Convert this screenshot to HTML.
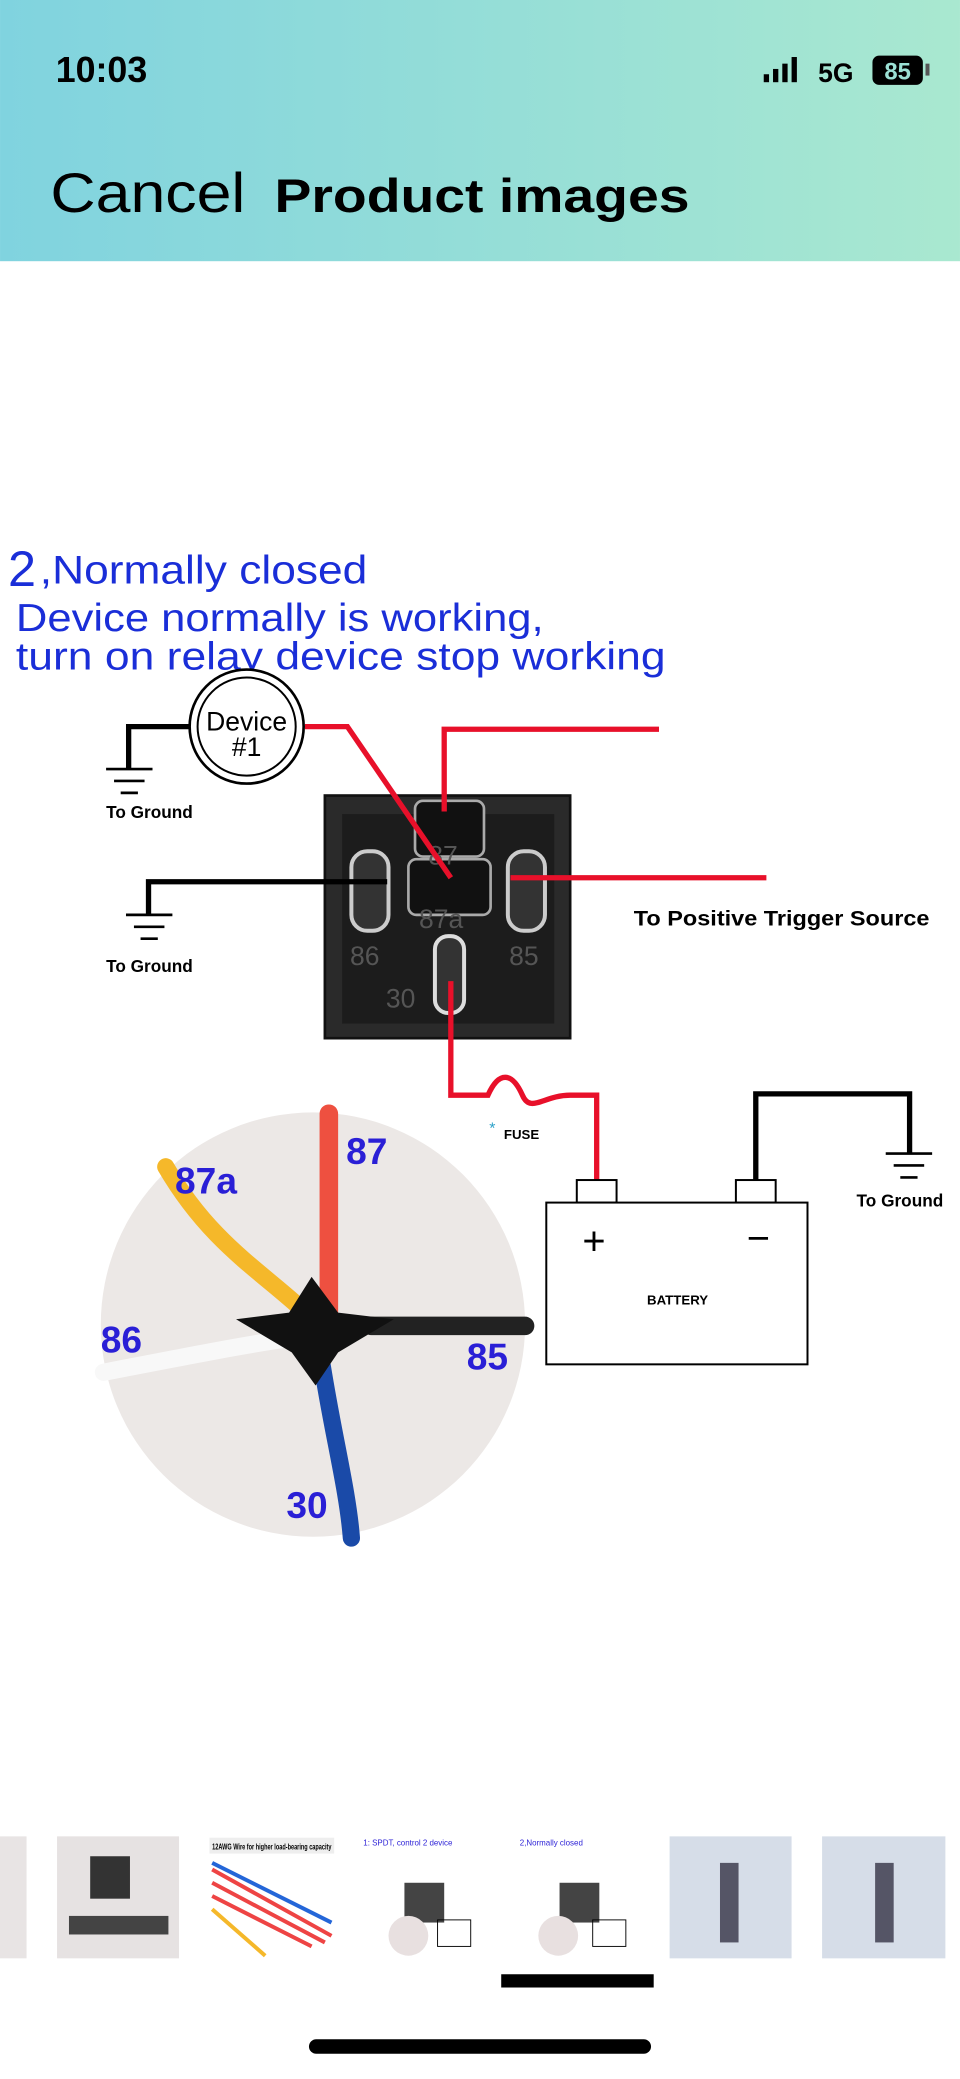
<!DOCTYPE html>
<html><head><meta charset="utf-8"><style>html,body{margin:0;padding:0;background:#fff}svg{display:block}</style></head>
<body>
<svg width="960" height="2079" viewBox="0 0 724 1568" xmlns="http://www.w3.org/2000/svg" font-family="Liberation Sans, sans-serif">
<defs>
<linearGradient id="hg" x1="0" x2="1"><stop offset="0" stop-color="#80d3df"/><stop offset="1" stop-color="#a9e8d0"/></linearGradient>
</defs>
<rect width="724" height="1568" fill="#fff"/>
<rect width="724" height="197" fill="url(#hg)"/>
<text x="42" y="62" font-size="27" font-weight="bold" fill="#000">10:03</text>
<g fill="#000"><rect x="576" y="56" width="4" height="6"/><rect x="583" y="52" width="4" height="10"/><rect x="590" y="48" width="4" height="14"/><rect x="597" y="43" width="4" height="19"/></g>
<text x="617" y="62" font-size="20" font-weight="bold">5G</text>
<rect x="658" y="42" width="38" height="22" rx="5" fill="#000"/><text x="677" y="60" font-size="18" font-weight="bold" fill="#9be0d4" text-anchor="middle">85</text>
<rect x="698" y="48" width="3" height="9" fill="#555"/>
<text x="38" y="160" font-size="42" fill="#000" textLength="147" lengthAdjust="spacingAndGlyphs">Cancel</text>
<text x="207" y="160" font-size="36" font-weight="bold" fill="#000" textLength="313" lengthAdjust="spacingAndGlyphs">Product images</text>

<text x="6" y="442" font-size="38" fill="#1a2ed8">2</text>
<text x="30" y="440" font-size="30" fill="#1a2ed8" textLength="247" lengthAdjust="spacingAndGlyphs">,Normally closed</text>
<text x="12" y="476" font-size="29" fill="#1a2ed8" textLength="398" lengthAdjust="spacingAndGlyphs">Device normally is working,</text>
<text x="12" y="505" font-size="29" fill="#1a2ed8" textLength="490" lengthAdjust="spacingAndGlyphs">turn on relay device stop working</text>

<rect x="245" y="600" width="185" height="183" fill="#2a2a2a" stroke="#111" stroke-width="2"/>
<rect x="258" y="614" width="160" height="158" fill="#1c1c1c"/>
<rect x="313" y="604" width="52" height="42" rx="6" fill="#111" stroke="#aaa" stroke-width="2"/>
<rect x="308" y="648" width="62" height="42" rx="6" fill="#111" stroke="#aaa" stroke-width="2"/>
<rect x="265" y="642" width="28" height="60" rx="12" fill="#333" stroke="#ccc" stroke-width="3"/>
<rect x="383" y="642" width="28" height="60" rx="12" fill="#333" stroke="#ccc" stroke-width="3"/>
<rect x="328" y="706" width="22" height="58" rx="10" fill="#333" stroke="#ddd" stroke-width="3"/>
<g fill="#555" font-size="20"><text x="323" y="652">87</text><text x="316" y="700">87a</text><text x="264" y="728">86</text><text x="384" y="728">85</text><text x="291" y="760">30</text></g>

<g fill="none" stroke-width="4">
<path d="M145 548H97V580" stroke="#000"/>
<path d="M230 548H262L340 662" stroke="#e8102a"/>
<path d="M335 612V550H497" stroke="#e8102a"/>
<path d="M292 665H112V690" stroke="#000"/>
<path d="M385 662H578" stroke="#e8102a"/>
<path d="M340 740V826H368C376 808 386 808 394 826C400 840 410 826 430 826H450V890" stroke="#e8102a"/>
<path d="M570 890V825H686V870" stroke="#000"/>
</g>
<circle cx="186" cy="548" r="43" fill="#fff" stroke="#000" stroke-width="2"/>
<circle cx="186" cy="548" r="37" fill="#fff" stroke="#000" stroke-width="1.5"/>
<text x="186" y="551" font-size="20" text-anchor="middle">Device</text>
<text x="186" y="570" font-size="20" text-anchor="middle">#1</text>
<g stroke="#000" stroke-width="2">
<path d="M80 580H115M86 589H109M91 598H104"/>
<path d="M95 690H130M101 699H124M106 708H119"/>
<path d="M668 870H703M674 879H697M679 888H692"/>
</g>
<g font-size="13" font-weight="bold"><text x="80" y="617">To Ground</text><text x="80" y="733">To Ground</text><text x="646" y="910">To Ground</text>
<text x="478" y="698" font-size="16" textLength="223" lengthAdjust="spacingAndGlyphs">To Positive Trigger Source</text>
<text x="380" y="859" font-size="10">FUSE</text></g>
<text x="369" y="855" font-size="12" fill="#2aa0c8">*</text>

<rect x="435" y="890" width="30" height="17" fill="#fff" stroke="#000" stroke-width="1.5"/>
<rect x="555" y="890" width="30" height="17" fill="#fff" stroke="#000" stroke-width="1.5"/>
<rect x="412" y="907" width="197" height="122" fill="#fff" stroke="#000" stroke-width="1.5"/>
<text x="448" y="946" font-size="30" text-anchor="middle">+</text>
<text x="572" y="944" font-size="30" text-anchor="middle">−</text>
<text x="511" y="984" font-size="10" font-weight="bold" text-anchor="middle">BATTERY</text>

<circle cx="236" cy="999" r="160" fill="#ece8e6"/>
<g fill="none" stroke-linecap="round">
<path d="M248 990V840" stroke="#ee5040" stroke-width="14"/>
<path d="M78 1035C130 1025 180 1015 215 1010" stroke="#f8f8f8" stroke-width="13"/>
<path d="M280 1000H396" stroke="#222" stroke-width="14"/>
<path d="M240 1010C248 1070 262 1120 265 1160" stroke="#1a4aa8" stroke-width="13"/>
<path d="M237 996C200 960 160 940 125 880" stroke="#f5b82a" stroke-width="13"/>
</g>
<path d="M178 995L218 990L235 963L255 990L297 995L255 1020L238 1045L220 1020Z" fill="#111"/>
<g font-size="28" font-weight="bold" fill="#2a1fd6"><text x="261" y="878">87</text><text x="132" y="900">87a</text><text x="76" y="1020">86</text><text x="352" y="1033">85</text><text x="216" y="1145">30</text></g>

<rect x="0" y="1385" width="20" height="92" fill="#e8e4e4"/>
<rect x="43" y="1385" width="92" height="92" fill="#e6e2e2"/><rect x="68" y="1400" width="30" height="32" fill="#333"/><rect x="52" y="1445" width="75" height="14" fill="#444"/>
<rect x="158" y="1385" width="94" height="92" fill="#fff"/><rect x="158" y="1386" width="94" height="12" fill="#eee"/><text x="160" y="1395" font-size="6" font-weight="bold" textLength="90" lengthAdjust="spacingAndGlyphs">12AWG Wire for higher load-bearing capacity</text>
<path d="M160 1410L250 1460M160 1420L245 1465M160 1430L235 1468" stroke="#e44" stroke-width="3"/><path d="M160 1405L250 1450" stroke="#2466d8" stroke-width="3"/><path d="M160 1440L200 1475" stroke="#f5b82a" stroke-width="3"/>
<g font-size="6" fill="#2a1fd6"><text x="274" y="1392">1: SPDT, control 2 device</text><text x="392" y="1392">2,Normally closed</text></g>
<rect x="305" y="1420" width="30" height="30" fill="#444"/><circle cx="308" cy="1460" r="15" fill="#e8e0e0"/><rect x="330" y="1448" width="25" height="20" fill="none" stroke="#000" stroke-width="0.7"/>
<rect x="422" y="1420" width="30" height="30" fill="#444"/><circle cx="421" cy="1460" r="15" fill="#e8e0e0"/><rect x="447" y="1448" width="25" height="20" fill="none" stroke="#000" stroke-width="0.7"/>
<rect x="505" y="1385" width="92" height="92" fill="#d6dde8"/><rect x="543" y="1405" width="14" height="60" fill="#556"/>
<rect x="620" y="1385" width="93" height="92" fill="#d6dde8"/><rect x="660" y="1405" width="14" height="60" fill="#556"/>
<rect x="378" y="1489" width="115" height="10" fill="#000"/>
<rect x="233" y="1538" width="258" height="11" rx="5.5" fill="#000"/>
</svg>
</body></html>
